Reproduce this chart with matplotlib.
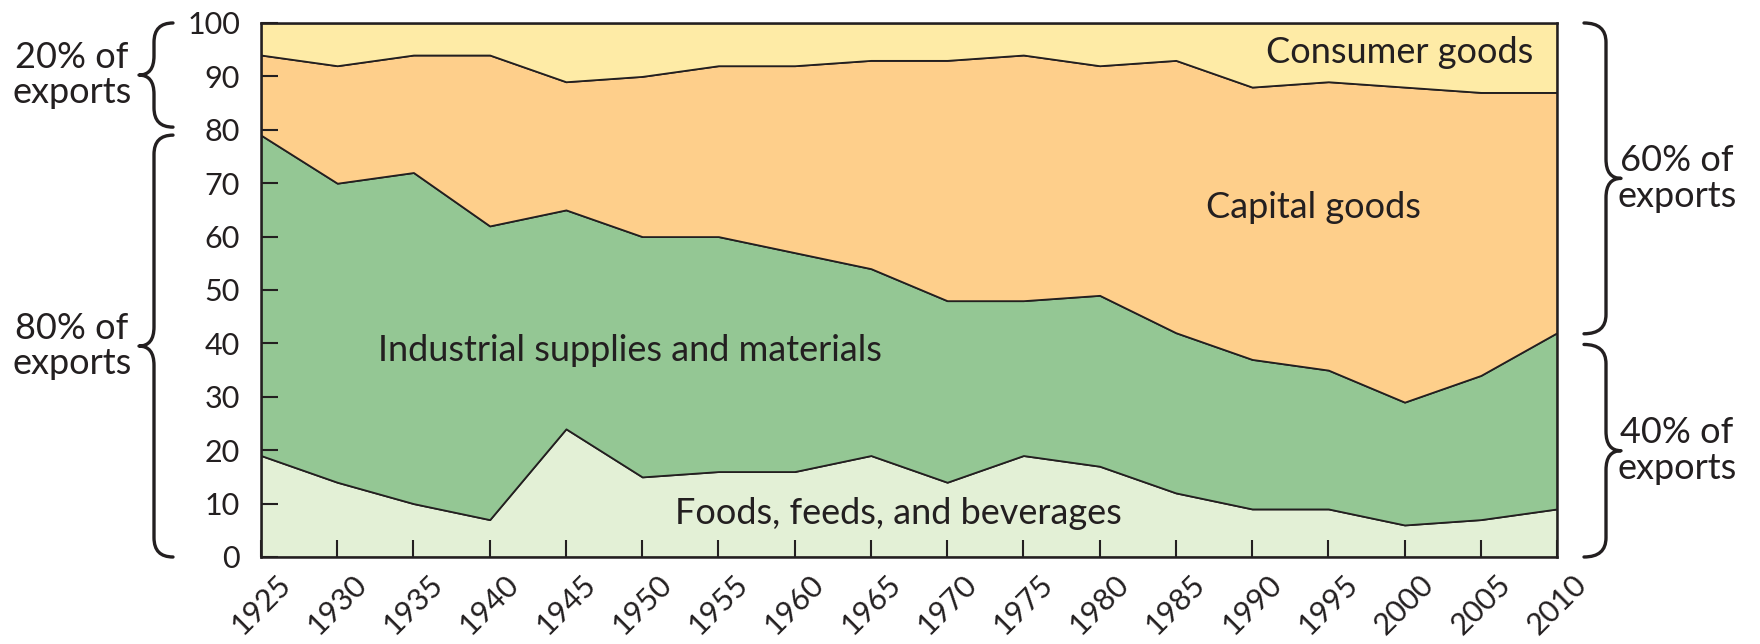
import numpy as np
import matplotlib
matplotlib.use("Agg")
import matplotlib.pyplot as plt
from matplotlib.path import Path
from matplotlib.patches import PathPatch
import matplotlib.transforms as mtransforms

plt.rcParams['font.family'] = ['Lato', 'DejaVu Sans']

# shares of exports (%)
years = [1925, 1930, 1935, 1940, 1945, 1950, 1955, 1960, 1965,
         1970, 1975, 1980, 1985, 1990, 1995, 2000, 2005, 2010]
foods = [19, 14, 10, 7, 24, 15, 16, 16, 19, 14, 19, 17, 12, 9, 9, 6, 7, 9]
industrial = [60, 56, 62, 55, 41, 45, 44, 41, 35, 34, 29, 32, 30, 28, 26, 23, 27, 33]
capital = [15, 22, 22, 32, 24, 30, 32, 35, 39, 45, 46, 43, 51, 51, 54, 59, 53, 45]
consumer = [6, 8, 6, 6, 11, 10, 8, 8, 7, 7, 6, 8, 7, 12, 11, 12, 13, 13]

colors = ['#e3f0d6', '#94c794', '#fecf8b', '#feeba6']
ink = '#231f20'

fig = plt.figure(figsize=(17.6, 6.44), dpi=100)
ax = fig.add_axes([0.1483, 0.1351, 0.7364, 0.8292])

ax.stackplot(years, foods, industrial, capital, consumer,
             colors=colors, edgecolor=ink, linewidth=1.3)

ax.set_xlim(1925, 2010)
ax.set_ylim(0, 100)
ax.set_xticks(years)
ax.set_xticklabels([str(y) for y in years], rotation=45, ha='right',
                   va='top', rotation_mode='anchor')
ax.set_yticks(range(0, 101, 10))
ax.tick_params(axis='both', direction='in', length=12, width=1.5,
               color=ink, labelcolor=ink, labelsize=22)
ax.tick_params(axis='x', pad=9, labelsize=22)
ax.tick_params(axis='y', pad=15)
shift = mtransforms.ScaledTranslation(0.15, 0, fig.dpi_scale_trans)
for lab in ax.get_xticklabels():
    lab.set_transform(lab.get_transform() + shift)
for s in ax.spines.values():
    s.set_color(ink)
    s.set_linewidth(1.8)

# area labels
ax.text(1999.7, 94.5, 'Consumer goods', ha='center', va='center', fontsize=26, color=ink)
ax.text(1994.0, 65.4, 'Capital goods', ha='center', va='center', fontsize=26, color=ink)
ax.text(1949.2, 38.7, 'Industrial supplies and materials', ha='center', va='center',
        fontsize=26, color=ink)
ax.text(1966.8, 8.2, 'Foods, feeds, and beverages', ha='center', va='center',
        fontsize=26, color=ink)

# curly braces outside the plot
trans = mtransforms.blended_transform_factory(fig.transFigure, ax.transData)


def brace(x_end, x_mid, x_tip, y_top, y_bot, r=3.6):
    ym = (y_top + y_bot) / 2.0
    verts = [(x_end, y_top), (x_mid, y_top), (x_mid, y_top - r),
             (x_mid, ym + r), (x_mid, ym), (x_tip, ym),
             (x_mid, ym), (x_mid, ym - r),
             (x_mid, y_bot + r), (x_mid, y_bot), (x_end, y_bot)]
    codes = [Path.MOVETO, Path.CURVE3, Path.CURVE3,
             Path.LINETO, Path.CURVE3, Path.CURVE3,
             Path.CURVE3, Path.CURVE3,
             Path.LINETO, Path.CURVE3, Path.CURVE3]
    p = PathPatch(Path(verts, codes), transform=trans, fill=False,
                  edgecolor=ink, linewidth=2.4, clip_on=False,
                  capstyle='round', joinstyle='round')
    fig.add_artist(p)
    return ym


W = 1760.0
left_braces = [(100, 80.5, '20% of\nexports'), (79, 0, '80% of\nexports')]
right_braces = [(100, 41.8, '60% of\nexports'), (39.8, 0, '40% of\nexports')]
for top, bot, txt in left_braces:
    ym = brace(173 / W, 154 / W, 139 / W, top, bot)
    fig.text(72 / W, ym, txt, transform=trans, ha='center', va='center',
             fontsize=26, color=ink, linespacing=1.1)
for top, bot, txt in right_braces:
    ym = brace(1584 / W, 1606 / W, 1621 / W, top, bot)
    fig.text(1677 / W, ym, txt, transform=trans, ha='center', va='center',
             fontsize=26, color=ink, linespacing=1.1)

fig.savefig('out.png', dpi=100, facecolor='white')
